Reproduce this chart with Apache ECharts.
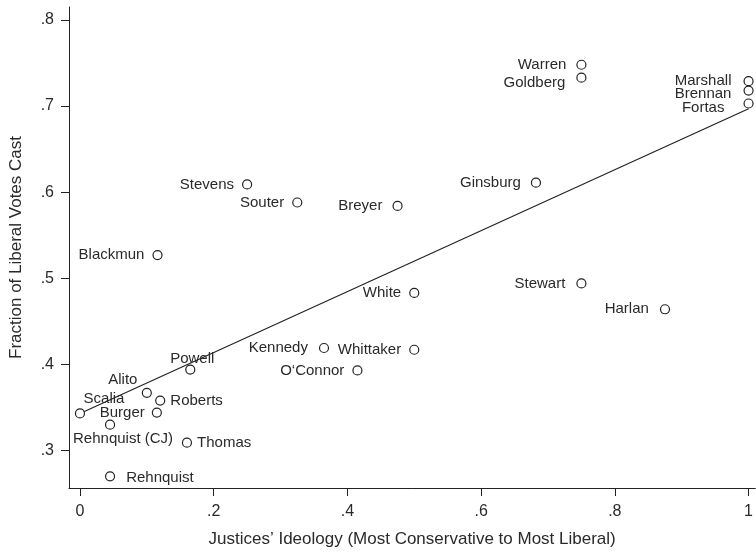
<!DOCTYPE html>
<html>
<head>
<meta charset="utf-8">
<script src="https://cdn.jsdelivr.net/npm/echarts@6/dist/echarts.min.js"></script>
<style>
html,body{margin:0;padding:0;background:#fff;}
#chart{width:756px;height:553px;}
</style>
</head>
<body>
<div id="chart"></div>
<script>
// ---- data ----
const justices = ['Warren','Goldberg','Marshall','Brennan','Fortas','Ginsburg','Stevens','Souter','Breyer','Blackmun','White','Stewart','Harlan','Kennedy','Whittaker','O\u2018Connor','Powell','Alito','Roberts','Scalia','Burger','Rehnquist (CJ)','Thomas','Rehnquist'];
const ideology = [0.75,0.75,1,1,1,0.682,0.25,0.325,0.475,0.116,0.5,0.75,0.875,0.365,0.5,0.415,0.165,0.1,0.12,0,0.115,0.045,0.16,0.045];
const liberalShare = [0.748,0.733,0.729,0.718,0.703,0.611,0.609,0.588,0.584,0.527,0.483,0.494,0.464,0.419,0.417,0.393,0.394,0.367,0.358,0.343,0.344,0.330,0.309,0.270];
const fitX = [0, 1];
const fitY = [0.343, 0.697];
const xTicks = [0, 0.2, 0.4, 0.6, 0.8, 1];
const yTicks = [0.3, 0.4, 0.5, 0.6, 0.7, 0.8];

// ---- label placement (style) ----
const labelPlacement = {
  'Scalia': {position:'inside', offset:[24,-15]},
  'Alito': {position:'inside', offset:[-24,-13]},
  'Rehnquist (CJ)': {position:'inside', offset:[13,14]},
  'Powell': {position:'inside', offset:[2,-11]},
  'Roberts': {position:'right', distance:5},
  'Thomas': {position:'right', distance:5},
  'Rehnquist': {position:'right', distance:11, offset:[0,2]},
  'Goldberg': {distance:11, offset:[0,5]},
  'Warren': {distance:10},
  'Marshall': {distance:12},
  'Brennan': {distance:12, offset:[0,3]},
  'Fortas': {distance:19, offset:[0,4]},
  'Ginsburg': {distance:10},
  'Stewart': {distance:11},
  'Harlan': {distance:11},
  'Breyer': {distance:10},
  'Kennedy': {distance:11},
  'Burger': {distance:7}
};

function fmt(v){
  const r = Math.round(v*10)/10;
  if (r === 0) return '0';
  if (r === 1) return '1';
  return String(r).replace(/^0/, '');
}

const TEXT = '#2a2a2a';
const FONT = '"Liberation Sans", Arial, Helvetica, sans-serif';

const scatterData = justices.map((n,i) => {
  const p = labelPlacement[n] || {};
  return {
    name: n,
    value: [ideology[i], liberalShare[i]],
    label: {
      show: true,
      formatter: n,
      position: p.position || 'left',
      distance: p.distance != null ? p.distance : 8,
      color: TEXT,
      fontSize: 15,
      fontFamily: FONT
    }
  };
});

const chart = echarts.init(document.getElementById('chart'), null, {renderer:'canvas'});
chart.setOption({
  animation: false,
  backgroundColor: '#fff',
  grid: {left:68, right:0, top:7, bottom:65, containLabel:false},
  xAxis: {
    type:'value', min:-0.0164, max:1.010,
    splitLine:{show:false},
    axisLine:{show:true, onZero:false, lineStyle:{color:'#222', width:1}},
    axisTick:{show:true, length:8, customValues:xTicks, lineStyle:{color:'#222', width:1}},
    axisLabel:{show:true, customValues:xTicks, formatter:fmt, fontSize:16, color:TEXT, fontFamily:FONT, margin:16},
    name:'Justices\u2019 Ideology (Most Conservative to Most Liberal)',
    nameLocation:'middle', nameGap:43,
    nameTextStyle:{fontSize:17, color:TEXT, fontFamily:FONT}
  },
  yAxis: {
    type:'value', min:0.2564, max:0.8151,
    splitLine:{show:false},
    axisLine:{show:true, onZero:false, lineStyle:{color:'#222', width:1}},
    axisTick:{show:true, length:8, customValues:yTicks, lineStyle:{color:'#222', width:1}},
    axisLabel:{show:true, customValues:yTicks, formatter:fmt, fontSize:16, color:TEXT, fontFamily:FONT, margin:15},
    name:'Fraction of Liberal Votes Cast',
    nameLocation:'middle', nameGap:44,
    nameTextStyle:{fontSize:17, color:TEXT, fontFamily:FONT}
  },
  series: [
    {
      type:'line',
      data: fitX.map((x,i)=>[x, fitY[i]]),
      symbol:'none',
      silent:true,
      lineStyle:{color:'#222', width:1.2},
      z:1
    },
    {
      type:'scatter',
      data: scatterData,
      symbol:'circle',
      symbolSize:9,
      itemStyle:{color:'#ffffff', borderColor:'#222', borderWidth:1.2, opacity:1},
      labelLayout: function (params) {
        const p = labelPlacement[justices[params.dataIndex]] || {};
        const o = p.offset || [0, 0];
        return {dx: o[0], dy: o[1], hideOverlap: false};
      },
      z:2
    }
  ]
});
</script>
</body>
</html>
